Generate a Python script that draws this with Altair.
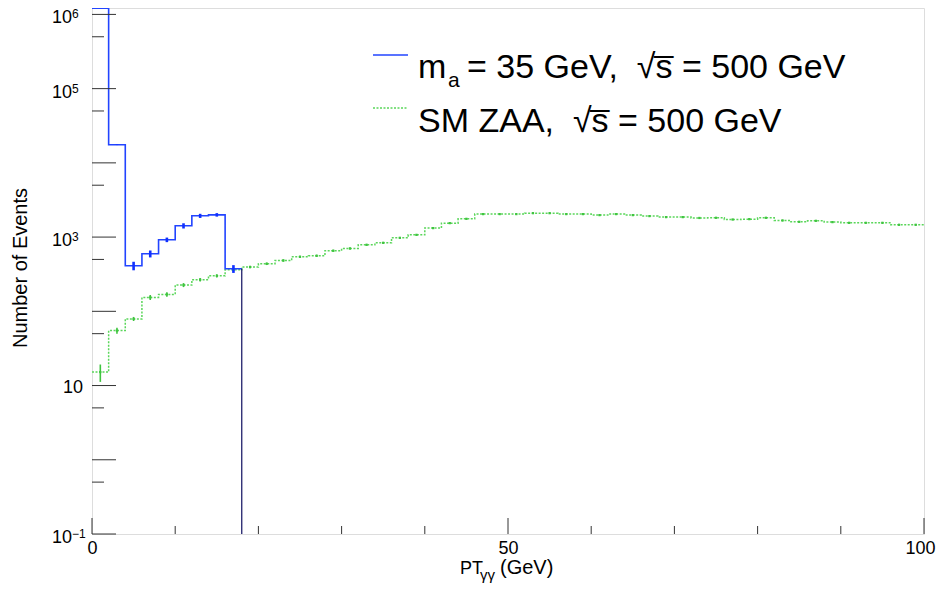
import altair as alt
import pandas as pd

# ---------------- data ----------------
BIN_W = 2
sig_bin_lo = [0, 2, 4, 6, 8, 10, 12, 14, 16]
sig_counts = [1.21e6, 1.75e4, 411, 596, 920, 1420, 1935, 1995, 374]
sig_err = [1100, 130, 54, 64, 65, 115, 124, 108, 45]

bkg_bin_lo = list(range(0, 100, 2))
bkg_counts = [15.2, 55, 79, 154, 169, 226, 267, 301, 363, 395,
              437, 484, 543, 560, 655, 703, 787, 837, 978, 1072,
              1321, 1542, 1762, 2040, 2040, 2040, 2100, 2100, 2040, 2040,
              1977, 2040, 1977, 1918, 1858, 1858, 1810, 1820, 1725, 1746,
              1820, 1675, 1607, 1657, 1591, 1557, 1557, 1557, 1465, 1465]
bkg_err = [4, 5, 5, 12, 12, 14, 14, 15, 16, 16,
           17, 18, 19, 19, 21, 22, 23, 24, 26, 27,
           30, 32, 34, 37, 37, 37, 38, 38, 37, 37,
           36, 37, 36, 36, 35, 35, 35, 35, 34, 34,
           35, 33, 32, 33, 32, 32, 32, 32, 31, 31]

y_label_vals = [1e6, 1e5, 1e3, 10, 0.1]
y_label_exp = ["6", "5", "3", "", "\u22121"]
y_major_ticks = [0.1, 1, 10, 100, 1e3, 1e4, 1e5, 1e6]
y_minor_ticks = [0.5, 5, 50, 500, 5e3, 5e4, 5e5]
x_label_vals = [0, 50, 100]
x_major_ticks = [0, 50, 100]
x_minor_ticks = [10, 20, 30, 40, 60, 70, 80, 90]

# ---------------- layout ----------------
W, H = 832, 526
FONT = "Liberation Sans"
BLUE = "#2244ff"
GREEN = "#5ad65a"
NB = "\u00a0"

xs = alt.Scale(domain=[0, 100], nice=False, zero=False)
ys = alt.Scale(type="log", domain=[0.1, 1.22e6], nice=False)

sig_step = pd.DataFrame({"x": sig_bin_lo + [sig_bin_lo[-1] + BIN_W],
                         "v": sig_counts + [sig_counts[-1]]})
sig_pts = pd.DataFrame({"c": [b + BIN_W / 2 for b in sig_bin_lo],
                        "v": sig_counts,
                        "lo": [v - e for v, e in zip(sig_counts, sig_err)],
                        "hi": [v + e for v, e in zip(sig_counts, sig_err)]})
sig_end = pd.DataFrame({"x": [sig_bin_lo[-1] + BIN_W], "v": [sig_counts[-1]]})

bkg_step = pd.DataFrame({"x": bkg_bin_lo + [bkg_bin_lo[-1] + BIN_W],
                         "v": bkg_counts + [bkg_counts[-1]]})
bkg_pts = pd.DataFrame({"c": [b + BIN_W / 2 for b in bkg_bin_lo],
                        "v": bkg_counts,
                        "lo": [v - e for v, e in zip(bkg_counts, bkg_err)],
                        "hi": [v + e for v, e in zip(bkg_counts, bkg_err)]})

ylab = pd.DataFrame({"v": y_label_vals, "base": ["10"] * len(y_label_vals), "exp": y_label_exp})

x_axis = alt.Axis(values=x_label_vals, labelFontSize=18, labelFont=FONT, labelColor="black",
                  ticks=False, domain=False, grid=False, labelPadding=5, title=None,
                  labelFlush=False, labelOverlap=False,
                  labelOffset={"expr": "datum.value == 100 ? -4 : 0"})

# background histogram (dotted green)
bkg_line = alt.Chart(bkg_step).mark_line(interpolate="step-after", color=GREEN,
                                         strokeWidth=1.5, strokeDash=[2, 1.5]).encode(
    x=alt.X("x:Q", scale=xs, axis=x_axis),
    y=alt.Y("v:Q", scale=ys, axis=None))
bkg_errs = alt.Chart(bkg_pts).mark_rule(color="#3fc43f", strokeWidth=1.6).encode(
    x=alt.X("c:Q", scale=xs), y=alt.Y("lo:Q", scale=ys), y2="hi:Q")
bkg_dots = alt.Chart(bkg_pts).mark_square(color="#3fc43f", size=5, opacity=1).encode(
    x=alt.X("c:Q", scale=xs), y=alt.Y("v:Q", scale=ys))

# signal histogram (solid blue)
sig_line = alt.Chart(sig_step).mark_line(interpolate="step-after", color=BLUE,
                                         strokeWidth=1.6).encode(
    x=alt.X("x:Q", scale=xs), y=alt.Y("v:Q", scale=ys))
sig_drop = alt.Chart(sig_end).mark_rule(color="#101060", strokeWidth=1.2).encode(
    x=alt.X("x:Q", scale=xs), y=alt.Y("v:Q", scale=ys), y2=alt.value(H))
sig_errs = alt.Chart(sig_pts).mark_rule(color="#1030ff", strokeWidth=2.6).encode(
    x=alt.X("c:Q", scale=xs), y=alt.Y("lo:Q", scale=ys), y2="hi:Q")

# inward ticks
ymaj = alt.Chart(pd.DataFrame({"v": y_major_ticks})).mark_rule(color="#333333", strokeWidth=1).encode(
    y=alt.Y("v:Q", scale=ys), x=alt.value(0), x2=alt.value(24))
ymin = alt.Chart(pd.DataFrame({"v": y_minor_ticks})).mark_rule(color="#333333", strokeWidth=1).encode(
    y=alt.Y("v:Q", scale=ys), x=alt.value(0), x2=alt.value(12))
xmaj = alt.Chart(pd.DataFrame({"v": x_major_ticks})).mark_rule(color="#333333", strokeWidth=1).encode(
    x=alt.X("v:Q", scale=xs), y=alt.value(H), y2=alt.value(H - 16))
xmin = alt.Chart(pd.DataFrame({"v": x_minor_ticks})).mark_rule(color="#333333", strokeWidth=1).encode(
    x=alt.X("v:Q", scale=xs), y=alt.value(H), y2=alt.value(H - 8))

# y labels with superscripts
ylab_base_exp = alt.Chart(ylab).transform_filter("datum.exp != ''").mark_text(
    align="right", baseline="middle", fontSize=18, font=FONT, color="black", dy=4).encode(
    y=alt.Y("v:Q", scale=ys), x=alt.value(-20), text="base:N")
ylab_base_plain = alt.Chart(ylab).transform_filter("datum.exp == ''").mark_text(
    align="right", baseline="middle", fontSize=18, font=FONT, color="black", dy=2).encode(
    y=alt.Y("v:Q", scale=ys), x=alt.value(-9), text="base:N")
ylab_exp = alt.Chart(ylab).transform_filter("datum.exp != ''").mark_text(
    align="left", baseline="top", fontSize=12, font=FONT, color="black", dy=-5).encode(
    y=alt.Y("v:Q", scale=ys), x=alt.value(-20), text="exp:N")

def txt(s, x, y, size, align="left", baseline="alphabetic", angle=0):
    kw = dict(align=align, baseline=baseline, fontSize=size, font=FONT, color="black", text=s)
    if angle:
        kw["angle"] = angle
    return alt.Chart(pd.DataFrame({"k": [0]})).mark_text(**kw).encode(
        x=alt.value(x), y=alt.value(y))

def seg(x1, x2, y, color, dash=None, width=1.6):
    kw = dict(color=color, strokeWidth=width)
    if dash:
        kw["strokeDash"] = dash
    return alt.Chart(pd.DataFrame({"k": [0]})).mark_rule(**kw).encode(
        x=alt.value(x1), x2=alt.value(x2), y=alt.value(y))

annotations = [
    # axis titles
    txt("Number of Events", -65, 260, 20, align="center", angle=270),
    txt("PT", 368, 566, 18),
    txt("\u03b3\u03b3", 388, 572, 15),
    txt("(GeV)", 408, 566, 20),
    # legend
    seg(281, 316, 47, BLUE),
    seg(281, 316, 100, GREEN, dash=[2, 1.5]),
    txt("m", 326, 70, 34),
    txt("a", 356, 79, 21),
    txt("= 35 GeV," + NB + NB + "\u221as\u0305 = 500 GeV", 375, 70, 34),
    txt("SM ZAA," + NB + NB + "\u221as\u0305 = 500 GeV", 326, 124, 34),
]

chart = alt.layer(
    bkg_line, bkg_errs, bkg_dots, sig_line, sig_drop, sig_errs,
    ymaj, ymin, xmaj, xmin, ylab_base_exp, ylab_base_plain, ylab_exp, *annotations
).properties(
    width=W, height=H,
    autosize=alt.AutoSizeParams(type="none"),
    padding={"left": 84, "top": 0, "right": 12, "bottom": 50},
).configure_view(stroke="black", strokeWidth=1).configure(background="white")

chart.save("out.html", embed_options={"renderer": "svg", "actions": False})
